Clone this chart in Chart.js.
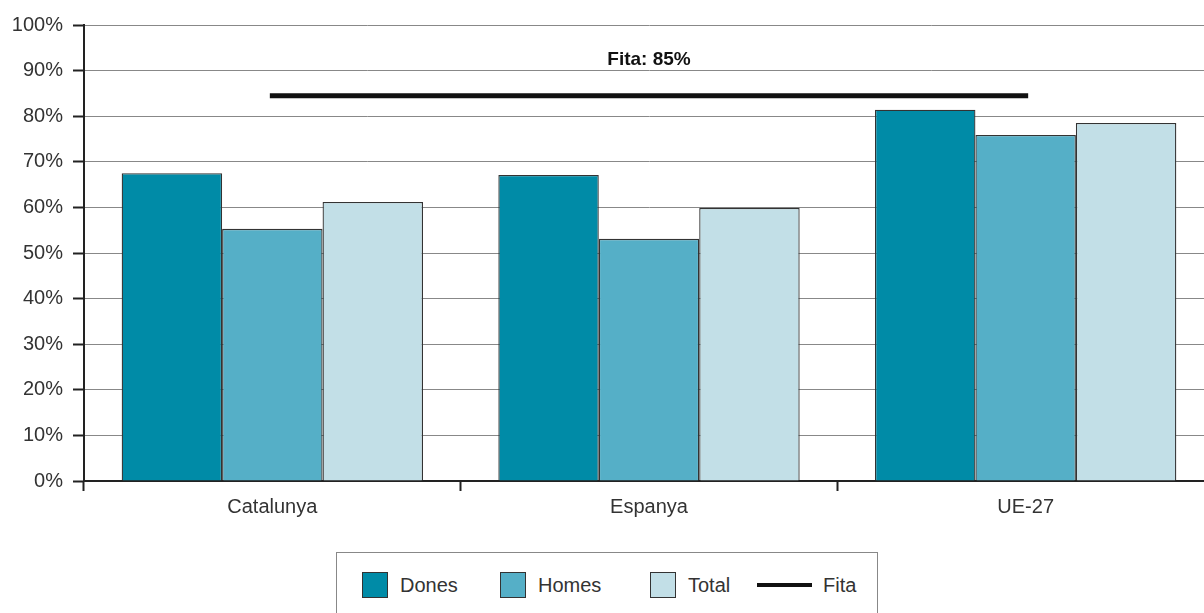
<!DOCTYPE html>
<html>
<head>
<meta charset="utf-8">
<script src="https://cdn.jsdelivr.net/npm/chart.js@4/dist/chart.umd.min.js"></script>
<style>
  html,body{margin:0;padding:0;background:#fff;}
  body{width:1204px;height:613px;overflow:hidden;position:relative;font-family:"Liberation Sans",Arial,sans-serif;color:#333;}
  #wrap{position:absolute;left:0;top:0;width:1214px;height:540px;}
  #legend{position:absolute;left:336px;top:552px;width:542px;height:80px;border:1px solid #888;box-sizing:border-box;}
  .item{position:absolute;top:19px;display:flex;align-items:center;font-size:20px;color:#333;height:26px;}
  .sw{width:24px;height:24px;border:1px solid #333;margin-right:12px;}
  .ln{width:55px;height:4px;background:#111;margin-right:11px;}
</style>
</head>
<body>
<div id="wrap"><canvas id="chart" width="1214" height="540"></canvas></div>
<div id="legend"></div>
<script>
const categories = ['Catalunya','Espanya','UE-27'];
const dones = [67.5, 67.1, 81.4];
const homes = [55.3, 53.1, 75.9];
const total = [61.2, 59.9, 78.5];
const fita = [84.5, 84.5, 84.5];
const fitaLabel = 'Fita: 85%';
const fitaLabelAt = 92.3;
const seriesNames = ['Dones','Homes','Total','Fita'];
const seriesColors = ['#008ba7','#55afc7','#c2dfe7','#111111'];

// ========== Legend ==========
const legendPos = [25, 163, 313, 420];
const legend = document.getElementById('legend');
seriesNames.forEach((name,i)=>{
  const d = document.createElement('div');
  d.className = 'item';
  d.style.left = legendPos[i] + 'px';
  const mark = i<3 ? `<div class="sw" style="background:${seriesColors[i]}"></div>` : `<div class="ln"></div>`;
  d.innerHTML = mark + '<span>' + name + '</span>';
  legend.appendChild(d);
});

// ========== Fita text ==========
const fitaText = {
  id:'fitaText',
  afterDatasetsDraw(chart){
    const {ctx, scales:{x,y}} = chart;
    ctx.save();
    ctx.font = 'bold 19px "Liberation Sans", Arial, sans-serif';
    ctx.fillStyle = '#111';
    ctx.textAlign = 'center';
    ctx.textBaseline = 'middle';
    ctx.fillText(fitaLabel, x.getPixelForValue(1), y.getPixelForValue(fitaLabelAt));
    ctx.restore();
  }
};

const barBase = {borderColor:'#333', borderWidth:1.3, categoryPercentage:0.8, barPercentage:1.0, order:2};
const tickFont = {size:20, family:'"Liberation Sans", Arial, sans-serif'};

new Chart(document.getElementById('chart').getContext('2d'),{
  type:'bar',
  data:{
    labels:categories,
    datasets:[
      {...barBase, label:seriesNames[0], data:dones, backgroundColor:seriesColors[0]},
      {...barBase, label:seriesNames[1], data:homes, backgroundColor:seriesColors[1]},
      {...barBase, label:seriesNames[2], data:total, backgroundColor:seriesColors[2]},
      {type:'line', label:seriesNames[3], data:fita, borderColor:seriesColors[3], borderWidth:5,
       pointRadius:0, borderCapStyle:'square', order:0}
    ]
  },
  options:{
    responsive:false,
    animation:false,
    layout:{padding:{top:25,right:0,left:0,bottom:0}},
    plugins:{legend:{display:false}, tooltip:{enabled:false}},
    scales:{
      x:{
        afterFit(s){ s.height = 59; },
        grid:{drawOnChartArea:false, offset:true, tickLength:10, tickColor:'#222', tickWidth:2},
        border:{color:'#222', width:2},
        ticks:{color:'#333', padding:4, font:tickFont}
      },
      y:{
        min:0, max:100,
        afterFit(s){ s.width = 84; },
        grid:{color:'#888', lineWidth:1, tickLength:11, tickColor:'#222', tickWidth:2},
        border:{color:'#222', width:2},
        ticks:{stepSize:10, color:'#333', padding:10, callback:v=>v+'%', font:tickFont}
      }
    }
  },
  plugins:[fitaText]
});
</script>
</body>
</html>
